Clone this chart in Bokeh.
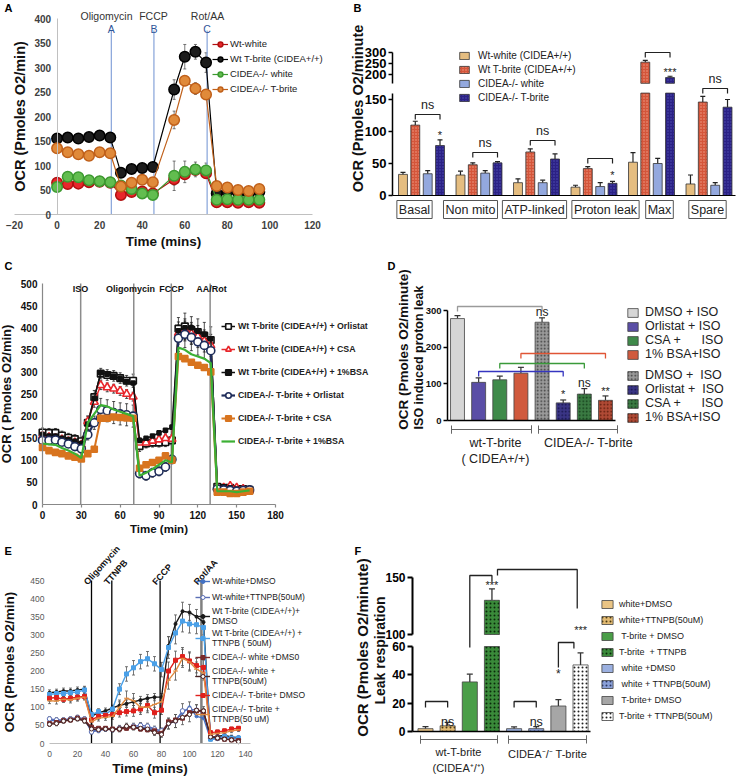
import math
from bokeh.plotting import figure
from bokeh.models import (Range1d, LinearAxis, FixedTicker, Whisker, TeeHead,
                          ColumnDataSource, Legend, LegendItem, Label)
from bokeh.layouts import row, column
from bokeh.embed import file_html
from bokeh.resources import INLINE

FONT = "Liberation Sans"

# ======================= DATA =======================
# ---- Panel A ----
a_time = [0, 5, 10, 15, 20, 25, 30, 35, 40, 45, 55, 60, 65, 70, 75, 80, 85, 90, 95]
a_wt_white = [65, 62, 63, 66, 67, 65, 40, 46, 47, 43, 72, 82, 91, 84, 25, 25, 24, 25, 24]
a_wt_white_err = [8, 5, 4, 4, 4, 4, 4, 4, 4, 4, 12, 10, 8, 8, 3, 3, 3, 3, 3]
a_wt_tbrite = [155, 157, 155, 158, 161, 157, 85, 93, 95, 97, 255, 322, 332, 310, 43, 46, 45, 43, 46]
a_wt_tbrite_err = [5, 5, 5, 5, 5, 5, 5, 6, 6, 6, 20, 25, 15, 20, 4, 4, 4, 4, 4]
a_ko_white = [56, 77, 76, 70, 68, 66, 59, 52, 43, 40, 79, 87, 92, 90, 30, 31, 30, 30, 30]
a_ko_white_err = [5, 5, 5, 5, 5, 5, 4, 4, 4, 4, 30, 22, 15, 15, 3, 3, 3, 3, 3]
a_ko_tbrite = [135, 127, 123, 120, 127, 125, 57, 65, 71, 66, 193, 273, 257, 245, 58, 55, 50, 48, 52]
a_ko_tbrite_err = [5, 5, 5, 5, 5, 5, 5, 5, 5, 5, 18, 10, 12, 10, 4, 4, 4, 4, 4]
a_injections = [25.5, 45.5, 70.5]
a_inj_letters = ["A", "B", "C"]
a_drugs = ["Oligomycin", "FCCP", "Rot/AA"]
a_xticks = [-20, 0, 20, 40, 60, 80, 100, 120]
a_yticks = [0, 50, 100, 150, 200, 250, 300, 350, 400]

# ---- Panel B ----
b_categories = ["Basal", "Non mito", "ATP-linked", "Proton leak", "Max", "Spare"]
b_groups = ["Wt-white (CIDEA+/+)", "Wt T-brite (CIDEA+/+)", "CIDEA-/- white", "CIDEA-/- T-brite"]
b_values = [[33, 32, 20, 13, 52, 18],
            [110, 48, 68, 42, 256, 146],
            [34, 35, 20, 14, 50, 16],
            [78, 51, 57, 19, 186, 138]]
b_errors = [[3, 6, 6, 3, 15, 14],
            [6, 3, 5, 3, 8, 9],
            [5, 4, 4, 6, 8, 4],
            [9, 2, 8, 3, 6, 12]]
b_break = 160
b_lower_ticks = [0, 50, 100, 150]
b_upper_ticks = [200, 250, 300]

# ---- Panel C ----
c_time = [0, 5, 10, 15, 20, 25, 30, 35, 40, 45, 50, 55, 60, 65, 70, 75, 80, 85, 90, 95, 100,
          105, 110, 115, 120, 125, 130, 135, 140, 145, 150, 155, 160]
c_wt_orl = [163, 162, 162, 156, 151, 148, 143, 185, 243, 296, 293, 291, 286, 280, 280,
            132, 138, 140, 140, 141, 145, 398, 403, 395, 390, 382, 372, 40, 38, 38, 35, 35, 33]
c_wt_orl_err = [10, 10, 10, 10, 10, 10, 10, 15, 15, 12, 12, 12, 12, 12, 15,
                12, 10, 10, 10, 10, 10, 25, 30, 30, 30, 30, 30, 5, 5, 5, 5, 5, 5]
c_wt_csa = [155, 152, 150, 147, 143, 140, 135, 188, 232, 270, 265, 262, 257, 250, 244,
            140, 140, 144, 147, 150, 148, 388, 395, 387, 380, 370, 360, 38, 38, 42, 38, 35, 33]
c_wt_csa_err = [8, 8, 8, 8, 8, 8, 8, 12, 12, 10, 10, 10, 10, 10, 10,
                10, 10, 10, 10, 10, 10, 25, 25, 25, 25, 25, 25, 5, 5, 5, 5, 5, 5]
c_wt_bsa = [158, 155, 155, 150, 147, 143, 138, 182, 240, 298, 295, 290, 285, 278, 275,
            145, 150, 155, 162, 168, 175, 393, 400, 400, 392, 385, 375, 38, 40, 38, 35, 33, 32]
c_ko_orl = [145, 145, 146, 141, 137, 131, 126, 158, 185, 215, 212, 208, 205, 203, 200,
            70, 65, 72, 75, 85, 102, 376, 385, 378, 368, 360, 348, 35, 33, 32, 30, 32, 33]
c_ko_orl_err = [8, 8, 8, 8, 8, 8, 8, 12, 15, 25, 25, 25, 25, 25, 25,
                10, 10, 10, 10, 10, 10, 30, 30, 30, 30, 30, 30, 5, 5, 5, 5, 5, 5]
c_ko_csa = [129, 122, 118, 115, 110, 107, 103, 115, 125, 195, 195, 198, 197, 196, 195,
            82, 90, 95, 100, 110, 100, 335, 330, 322, 315, 310, 300, 28, 28, 25, 25, 28, 30]
c_ko_bsa = [138, 136, 135, 128, 122, 115, 105, 185, 205, 225, 222, 215, 210, 205, 200,
            65, 72, 80, 90, 100, 95, 355, 350, 340, 335, 330, 320, 30, 30, 30, 28, 30, 32]
c_injections = [29.5, 70.5, 99.5, 129.5]
c_drugs = ["ISO", "Oligomycin", "FCCP", "AA/Rot"]
c_xticks = [0, 30, 60, 90, 120, 150, 180]
c_yticks = [0, 50, 100, 150, 200, 250, 300, 350, 400, 450, 500]

# ---- Panel D ----
d_labels = ["DMSO + ISO", "Orlistat + ISO", "CSA +      ISO", "1% BSA+ISO",
            "DMSO +  ISO", "Orlistat +  ISO", "CSA +      ISO", "1% BSA+ISO"]
d_values = [278, 104, 111, 129, 268, 48, 72, 55]
d_errors = [8, 12, 10, 16, 12, 8, 15, 12]
d_yticks = [0, 100, 200, 300]

# ---- Panel E ----
e_time = [0, 5, 10, 15, 20, 25, 30, 35, 40, 45, 50, 55, 60, 65, 70, 75, 80, 85, 90, 95,
          100, 105, 110, 115, 120, 125, 130, 135]
e_wt_white_dmso = [65, 62, 65, 68, 70, 68, 35, 38, 42, 40, 42, 42, 45, 45, 42, 38, 30,
                   55, 65, 85, 100, 75, 70, 12, 12, 15, 15, 18]
e_wt_white_ttnpb = [68, 65, 65, 68, 72, 68, 32, 36, 40, 38, 42, 45, 48, 50, 48, 40, 35,
                    55, 62, 90, 95, 92, 85, 15, 18, 20, 15, 12]
e_wt_tb_dmso = [140, 142, 145, 145, 148, 150, 75, 85, 90, 98, 105, 110, 115, 120, 125, 128, 128,
                270, 330, 365, 362, 350, 335, 15, 20, 22, 18, 15]
e_wt_tb_ttnpb = [135, 138, 138, 140, 142, 148, 80, 88, 80, 95, 150, 192, 209, 226, 234, 220, 204,
                 265, 305, 338, 330, 328, 320, 12, 15, 20, 15, 15]
e_ko_white_dmso = [55, 58, 63, 65, 70, 65, 45, 42, 42, 40, 40, 42, 45, 40, 38, 35, 28,
                   60, 65, 70, 85, 90, 88, 20, 15, 12, 10, 8]
e_ko_white_ttnpb = [53, 55, 62, 65, 68, 62, 40, 38, 40, 38, 40, 48, 45, 42, 40, 30, 25,
                    55, 62, 72, 80, 92, 90, 18, 15, 12, 10, 5]
e_ko_tb_dmso = [125, 127, 122, 125, 128, 130, 65, 75, 78, 80, 85, 88, 90, 95, 105, 85, 92,
                200, 230, 240, 228, 215, 210, 30, 32, 35, 40, 42]
e_ko_tb_ttnpb = [118, 117, 122, 120, 125, 128, 60, 70, 72, 75, 100, 125, 118, 100, 100, 108, 115,
                 175, 200, 235, 225, 205, 195, 25, 28, 30, 35, 38]
e_err_wt_tb_dmso = [8, 8, 8, 8, 8, 8, 8, 8, 8, 8, 10, 10, 10, 10, 10, 10, 10,
                    25, 25, 25, 22, 20, 15, 5, 5, 5, 5, 5]
e_err_wt_tb_ttnpb = [8, 8, 8, 8, 8, 8, 8, 8, 8, 8, 15, 20, 20, 20, 20, 20, 20,
                     30, 30, 30, 25, 25, 20, 5, 5, 5, 5, 5]
e_err_ko_tb_dmso = [8, 8, 8, 8, 8, 8, 8, 8, 8, 8, 12, 12, 15, 15, 15, 15, 12,
                    25, 25, 25, 25, 20, 20, 5, 5, 5, 5, 5]
e_err_ko_tb_ttnpb = [8, 8, 8, 8, 8, 8, 8, 8, 8, 8, 20, 20, 20, 15, 15, 15, 15,
                     25, 25, 25, 25, 20, 20, 5, 5, 5, 5, 5]
e_err_white = [6, 6, 6, 6, 6, 6, 6, 6, 6, 6, 8, 8, 8, 8, 8, 8, 8,
               15, 18, 20, 20, 15, 12, 5, 5, 5, 5, 5]
e_injections = [30, 44.5, 79, 108.5]
e_drugs = ["Oligomycin", "TTNPB", "FCCP", "Rot/AA"]
e_xticks = [0, 20, 40, 60, 80, 100, 120, 140]
e_yticks = [0, 50, 100, 150, 200, 250, 300, 350, 400, 450]

# ---- Panel F ----
f_labels = ["white+DMSO", "white+TTNPB(50uM)", " T-brite + DMSO", "T-brite  + TTNPB",
            " white +DMS0", " white + TTNPB(50uM)", " T-brite+ DMSO", "T-brite + TTNPB(50uM)"]
f_values = [2, 4, 35, 130, 2, 2, 18, 47]
f_errors = [1.5, 2.5, 5.5, 10, 1.2, 1.5, 4.5, 8.5]
f_break = 60
f_lower_ticks = [0, 20, 40, 60]
f_upper_ticks = [100, 150]


# ======================= HELPERS =======================
def fpx(v):
    return f"{v:.2f}px"


def lin(pa, va, pb, vb):
    return lambda p: va + (p - pa) * (vb - va) / (pb - pa)


class Panel:
    """Figure whose plotting frame is the whole panel box; xcal/ycal calibrate
    reference-pixel positions to data values (used for the ranges and annotations)."""

    def __init__(self, box, xcal, ycal):
        self.box = box
        x0, y0, x1, y1 = box
        self.X = lin(*xcal)
        self.Y = lin(*ycal)
        W = x1 - x0
        H = y1 - y0
        self.p = figure(width=W, height=H, min_border=0,
                        x_range=Range1d(self.X(x0), self.X(x1)),
                        y_range=Range1d(self.Y(y1), self.Y(y0)),
                        x_axis_location=None, y_axis_location=None,
                        output_backend="svg", toolbar_location=None, tools="")
        self.p.outline_line_color = None
        self.p.grid.visible = False
        self.p.background_fill_color = "white"
        self.p.border_fill_color = "white"

    def extra(self, name, ycal):
        x0, y0, x1, y1 = self.box
        f = lin(*ycal)
        self.p.extra_y_ranges = {name: Range1d(f(y1), f(y0))}


def axis(pan, side, ticks, loc, bounds, label=None, lsize=10, lbold=True, lcolor="#222",
         line="#000", lw=1.0, tick_out=0, standoff=4, title_size=13, title_standoff=4,
         rng=None, title_bold=True):
    kw = {}
    if rng:
        kw["y_range_name"] = rng
    ax = LinearAxis(fixed_location=loc, bounds=bounds, ticker=FixedTicker(ticks=ticks),
                    axis_label=label, **kw)
    ax.axis_line_color = line
    ax.axis_line_width = lw
    ax.major_tick_line_color = line if tick_out else None
    ax.major_tick_out = int(tick_out)
    ax.major_tick_in = 0
    ax.major_tick_line_width = lw
    ax.minor_tick_line_color = None
    ax.major_label_text_font = FONT
    ax.major_label_text_font_size = fpx(lsize)
    ax.major_label_text_font_style = "bold" if lbold else "normal"
    ax.major_label_text_color = lcolor
    ax.major_label_standoff = int(standoff)
    ax.axis_label_text_font = FONT
    ax.axis_label_text_font_size = fpx(title_size)
    ax.axis_label_text_font_style = "bold" if title_bold else "normal"
    ax.axis_label_text_color = "#111"
    ax.axis_label_standoff = int(title_standoff)
    pan.p.add_layout(ax, side)
    return ax


def txt(pan, x, y_px, text, size, bold=False, color="#222", align="center",
        baseline="middle", angle=0.0, **kw):
    pan.p.add_layout(Label(x=x, y=pan.Y(y_px), text=text, text_font=FONT,
                           text_font_size=fpx(size),
                           text_font_style="bold" if bold else "normal",
                           text_color=color, text_align=align, text_baseline=baseline,
                           angle=angle, **kw))


def poly(pan, xs, ys_px, color="#222", width=1.0):
    pan.p.line(xs, [pan.Y(v) for v in ys_px], line_color=color, line_width=width)


def whisk(pan, xs, vals, errs, color, width=1.0, head=4, both=True, rng=None):
    lo = [v - e for v, e in zip(vals, errs)] if both else list(vals)
    hi = [v + e for v, e in zip(vals, errs)]
    src = ColumnDataSource(dict(x=list(xs), lo=lo, hi=hi))
    kw = {}
    if rng:
        kw["y_range_name"] = rng
    w = Whisker(source=src, base="x", lower="lo", upper="hi", line_color=color,
                line_width=width,
                upper_head=TeeHead(size=head, line_color=color, line_width=width),
                lower_head=TeeHead(size=head, line_color=color, line_width=width) if both else None,
                **kw)
    pan.p.add_layout(w)


def legend(pan, items, left_px, top_px, row_px, size, bold=False, glyph_w=14, glyph_h=10,
           standoff=5, spacing_px=0, color="#222", total_h=None):
    n = len(items)
    h = total_h if total_h is not None else n * row_px + (n - 1) * spacing_px
    x0, y0, x1, y1 = pan.box
    lg = Legend(items=items, location=(left_px - x0, y1 - top_px - h),
                label_text_font=FONT, label_text_font_size=fpx(size),
                label_text_font_style="bold" if bold else "normal",
                label_text_color=color, glyph_width=int(glyph_w),
                glyph_height=int(glyph_h), label_height=int(round(row_px)),
                label_standoff=int(standoff), spacing=int(spacing_px),
                padding=0, margin=0, border_line_color=None, background_fill_alpha=0)
    pan.p.add_layout(lg)


def letter(pan, px, py, t):
    txt(pan, pan.X(px), py, t, 11, bold=True, color="#000", align="left")


# ======================= PANEL A =======================
A = Panel((0, 0, 345, 252), (14, -20, 312, 120), (214, 0, 18, 400))
pa = A.p
axis(A, "left", a_yticks, 0, (0, 400), label="OCR (Pmoles O2/min)", lsize=10, lcolor="#404040",
     line="#c0c0c0", standoff=6, title_size=14.5, title_standoff=4)
axis(A, "below", a_xticks, 0, (-20, 120), label="Time (mins)", lsize=10, lcolor="#404040",
     line="#c0c0c0", standoff=6, title_size=13.5, title_standoff=2)
pa.segment(x0=a_injections, y0=[0] * 3, x1=a_injections, y1=[A.Y(30)] * 3,
           line_color="#8faadc", line_width=1.3)
for t, l in zip(a_injections, a_inj_letters):
    txt(A, t, 28, l, 10.5, color="#2f5597")
for px_, d in zip([106, 153, 207], a_drugs):
    txt(A, A.X(px_), 15, d, 10.5, color="#333")

a_series = [
    ("Wt-white", a_wt_white, a_wt_white_err, "#e8262b", "#b01010"),
    ("Wt T-brite (CIDEA+/+)", a_wt_tbrite, a_wt_tbrite_err, "#1c1c1c", "#000000"),
    ("CIDEA-/- white", a_ko_white, a_ko_white_err, "#62bd4f", "#3c9a30"),
    ("CIDEA-/- T-brite", a_ko_tbrite, a_ko_tbrite_err, "#e08a3a", "#c0601a"),
]
a_items = []
for name, vals, errs, fill, line in a_series:
    whisk(A, a_time, vals, errs, "#555", width=0.8, head=3)
    r1 = pa.line(a_time, vals, line_color=line, line_width=1.2)
    r2 = pa.scatter(a_time, vals, size=10.5, marker="circle", fill_color=fill,
                    line_color=line, line_width=1.5)
    a_items.append(LegendItem(label=name, renderers=[r1, r2]))
legend(A, a_items, 212, 36, 15, 9.5, glyph_w=16, glyph_h=12, standoff=2)
letter(A, 4, 7, "A")

# ======================= PANEL B =======================
B = Panel((345, 0, 738, 252), (421, 0, 478.5, 1), (195, 0, 99, 150))
pb = B.p
B.extra("hi", (52, 300, 74, 200))
b_left = B.X(392)
axis(B, "left", b_lower_ticks, b_left, (0, b_break), lsize=13, lcolor="#000", lw=1.5,
     tick_out=4, standoff=2)
axis(B, "left", b_upper_ticks, b_left, (b_break, 300), lsize=13, lcolor="#000", lw=1.5,
     tick_out=4, standoff=2, rng="hi")
axis(B, "below", [], 0, (b_left, B.X(735)), lsize=0, lw=1.2)
txt(B, B.X(357), 108, "OCR (Pmoles O2/minute", 14.5, bold=True, color="#111", angle=math.pi / 2)

b_offsets = [-0.322, -0.108, 0.108, 0.322]
b_style = [
    dict(fill_color="#e5bd80", hatch_pattern="blank"),
    dict(fill_color="#d4553a", hatch_pattern="dot", hatch_color="#f0a088", hatch_scale=3,
         hatch_weight=1),
    dict(fill_color="#93a8de", hatch_pattern="blank"),
    dict(fill_color="#2b2185", hatch_pattern="dot", hatch_color="#5050b0", hatch_scale=3,
         hatch_weight=1),
]
b_items = []
for j, (name, vals, errs) in enumerate(zip(b_groups, b_values, b_errors)):
    xs = [i + b_offsets[j] for i in range(len(b_categories))]
    lo_top = [min(v, b_break) for v in vals]
    r = pb.vbar(x=xs, top=lo_top, bottom=0, width=0.155, line_color="#333", line_width=0.8,
                **b_style[j])
    b_items.append(LegendItem(label=name, renderers=[r]))
    hx = [x for x, v in zip(xs, vals) if v > b_break]
    hv = [v for v in vals if v > b_break]
    he = [e for v, e in zip(vals, errs) if v > b_break]
    lx = [x for x, v in zip(xs, vals) if v <= b_break]
    lv = [v for v in vals if v <= b_break]
    le = [e for v, e in zip(vals, errs) if v <= b_break]
    if hv:
        pb.vbar(x=hx, top=hv, bottom=b_break, width=0.155, line_color="#333", line_width=0.8,
                y_range_name="hi", **b_style[j])
        whisk(B, hx, hv, he, "#222", width=1.2, head=5, both=False, rng="hi")
    whisk(B, lx, lv, le, "#222", width=1.2, head=5, both=False)

# category label boxes (placed like the reference's boxed axis labels)
b_label_px = [414, 470, 534, 605, 659, 707]
for lx_, cat in zip(b_label_px, b_categories):
    txt(B, B.X(lx_), 209, cat, 12.5, color="#222", border_line_color="#555", border_line_width=1,
        background_fill_color="white", padding=2)

b_brackets = [(0, 114, "ns"), (1, 152, "ns"), (2, 140, "ns"), (3, 158, ""), (4, 52, ""), (5, 88, "ns")]
for cat, ypx, lab in b_brackets:
    x1, x2 = cat + b_offsets[1], cat + b_offsets[3]
    poly(B, [x1, x1, x2, x2], [ypx + 5, ypx, ypx, ypx + 5], color="#222", width=1.2)
    if lab:
        txt(B, (x1 + x2) / 2, ypx - 10, lab, 12.5, color="#222")
txt(B, 0 + b_offsets[3], 134, "*", 11, color="#222")
txt(B, 3 + b_offsets[3], 174, "*", 11, color="#222")
txt(B, 4 + b_offsets[3], 71, "***", 11, color="#222")
legend(B, b_items, 458, 48, 14, 10, glyph_w=12, glyph_h=9, standoff=8)
letter(B, 353, 7, "B")

# ======================= PANEL C =======================
C = Panel((0, 252, 378, 537), (42, 0, 275, 180), (504, 0, 283, 500))
pc = C.p
axis(C, "left", c_yticks, 0, (0, 500), label="OCR ( Pmoles O2/min)", lsize=10, lcolor="#111",
     line="#888", lw=1.2, standoff=5, title_size=13, title_standoff=4)
axis(C, "below", c_xticks, 0, (0, 180), label="Time (min)", lsize=10, lcolor="#111",
     line="#888", lw=1.2, tick_out=3, standoff=3, title_size=11.5, title_standoff=1)
pc.segment(x0=c_injections, y0=[0] * 4, x1=c_injections, y1=[500] * 4,
           line_color="#8c8c8c", line_width=1.5)
for px_, d in zip([80, 130, 171, 211], c_drugs):
    txt(C, C.X(px_), 288, d, 9, bold=True, color="#111")

c_series = [
    ("Wt T-brite (CIDEA+/+) + Orlistat", c_wt_orl, c_wt_orl_err, "#111111", "square", "white", 6.5, 1.5),
    ("Wt T-brite (CIDEA+/+) + CSA", c_wt_csa, c_wt_csa_err, "#e8262b", "triangle", "white", 8, 1.5),
    ("Wt T-brite (CIDEA+/+) + 1%BSA", c_wt_bsa, None, "#111111", "square", "#111111", 4, 1.5),
    ("CIDEA-/- T-brite + Orlistat", c_ko_orl, c_ko_orl_err, "#1f2d5a", "circle", "white", 8, 2.2),
    ("CIDEA-/- T-brite + CSA", c_ko_csa, None, "#d8741f", "square", "#d8741f", 6, 2.0),
    ("CIDEA-/- T-brite + 1%BSA", c_ko_bsa, None, "#3cb034", None, None, 0, 2.2),
]
c_items = []
for name, vals, errs, col, mk, fill, sz, lw in c_series:
    if errs:
        whisk(C, c_time, vals, errs, "#222", width=0.8, head=3)
    rs = [pc.line(c_time, vals, line_color=col, line_width=lw)]
    if mk:
        rs.append(pc.scatter(c_time, vals, marker=mk, size=sz, fill_color=fill,
                             line_color=col, line_width=1.6))
    c_items.append(LegendItem(label=name, renderers=rs))
legend(C, c_items, 221, 314, 23, 8.8, bold=True, glyph_w=14, glyph_h=14, standoff=3)
letter(C, 4, 265, "C")

# ======================= PANEL D =======================
D = Panel((378, 252, 738, 537), (457, 0, 478.14, 1), (420, 0, 310, 300))
pd_ = D.p
d_left = D.X(447)
axis(D, "left", d_yticks, d_left, (0, 300), lsize=9.5, lcolor="#111", lw=1.5, tick_out=4,
     standoff=2)
axis(D, "below", [], 0, (d_left, D.X(615)), lsize=0, lw=1.5)
d_fill = ["#d6d6d6", "#5a4ea6", "#3f8a4a", "#d05a3e", "#9a9a9a", "#3a3585", "#3a7a42", "#b04a35"]
d_hatch = ["blank", "blank", "blank", "blank", "dot", "dot", "dot", "dot"]
d_hcol = ["#000", "#000", "#000", "#000", "#3a3a3a", "#15134a", "#123a18", "#5a1a0a"]
d_src = ColumnDataSource(dict(x=list(range(len(d_values))), top=d_values, fill=d_fill,
                              hatch=d_hatch, hcol=d_hcol))
rd = pd_.vbar(x="x", top="top", bottom=0, width=0.66, source=d_src, fill_color="fill",
              hatch_pattern="hatch", hatch_color="hcol", hatch_scale=3.5, hatch_weight=1.6,
              line_color="#444", line_width=0.8)
whisk(D, range(len(d_values)), d_values, d_errors, "#333", width=1.2, head=6, both=False)
d_brackets = [(0, 4, 306, "#9a9a9a"), (3, 7, 353, "#e05535"), (2, 6, 363, "#3a9a3a"), (1, 5, 371, "#3535c0")]
for i1, i2, ypx, col in d_brackets:
    poly(D, [i1, i1, i2, i2], [ypx + 5, ypx, ypx, ypx + 5], color=col, width=1.3)
txt(D, 4, 311, "ns", 12, color="#222")
txt(D, 5, 393, "*", 11, color="#222")
txt(D, 6, 382, "ns", 12, color="#222")
txt(D, 7, 390, "**", 11, color="#222")
for a_, b_ in [(451, 531), (538, 617)]:
    poly(D, [D.X(a_), D.X(a_), D.X(a_), D.X(b_), D.X(b_), D.X(b_)],
         [425, 433, 429, 429, 425, 433], color="#666", width=1.0)
txt(D, D.X(495), 442, "wt-T-brite", 12.5, color="#222")
txt(D, D.X(495), 458, "( CIDEA+/+)", 12.5, color="#222")
txt(D, D.X(588), 442, "CIDEA-/- T-brite", 12.5, color="#222")
txt(D, D.X(403), 349, "OCR (Pmoles O2/minute)", 13.5, bold=True, color="#111", angle=math.pi / 2)
txt(D, D.X(418), 357, "ISO induced proton leak", 12.5, bold=True, color="#111", angle=math.pi / 2)
d_items1 = [LegendItem(label=d_labels[i], renderers=[rd], index=i) for i in range(4)]
d_items2 = [LegendItem(label=d_labels[i], renderers=[rd], index=i) for i in range(4, 8)]
legend(D, d_items1, 626, 309, 13, 12.5, glyph_w=13, glyph_h=11, standoff=6)
legend(D, d_items2, 626, 372, 13, 12.5, glyph_w=13, glyph_h=11, standoff=6)
letter(D, 387, 265, "D")

# ======================= PANEL E =======================
E = Panel((0, 537, 352, 777), (49, 0, 245, 140), (743, 0, 580, 450))
pe = E.p
e_right = E.X(250)
axis(E, "left", e_yticks, 0, (0, 450), label="OCR (Pmoles O2/min)", lsize=8.5, lbold=False,
     lcolor="#595959", line=None, standoff=5, title_size=13.5, title_standoff=10)
axis(E, "below", e_xticks, 0, (0, e_right), label="Time (mins)", lsize=8.5, lbold=False,
     lcolor="#595959", line="#bfbfbf", standoff=7, title_size=13.5, title_standoff=1)
pe.segment(x0=e_injections, y0=[0] * 4, x1=e_injections, y1=[450] * 4,
           line_color=["#000", "#000", "#000", "#808080"], line_width=[1.3, 1.3, 1.3, 2.5])
for t, d in zip(e_injections, e_drugs):
    txt(E, t, 583, d, 9, bold=True, color="#111", align="left", angle=math.radians(48),
        x_offset=-6)

e_series = [
    ("Wt-white+DMSO", e_wt_white_dmso, None, "#4472c4", "circle", "#4472c4", 3),
    ("Wt-white+TTNPB(50uM)", e_wt_white_ttnpb, e_err_white, "#5b6fb5", "circle", "white", 4.5),
    ("Wt T-brite (CIDEA+/+)+\nDMSO", e_wt_tb_dmso, e_err_wt_tb_dmso, "#1a1a1a", "circle", "#1a1a1a", 3),
    ("Wt T-brite (CIDEA+/+) +\nTTNPB ( 50uM)", e_wt_tb_ttnpb, e_err_wt_tb_ttnpb, "#4aa0e8", "square", "#4aa0e8", 4),
    ("CIDEA-/- white +DMS0", e_ko_white_dmso, None, "#7a2a2a", "square", "#7a2a2a", 4),
    ("CIDEA-/- white +\nTTNPB(50uM)", e_ko_white_ttnpb, e_err_white, "#4a2525", "circle", "white", 4),
    ("CIDEA-/- T-brite+ DMSO", e_ko_tb_dmso, e_err_ko_tb_dmso, "#e0201c", "square", "#e0201c", 4),
    ("CIDEA-/- T-brite +\nTTNPB(50 uM)", e_ko_tb_ttnpb, e_err_ko_tb_ttnpb, "#e08a40", "dash", "#e08a40", 5),
]
e_items = []
for name, vals, errs, col, mk, fill, sz in e_series:
    if errs:
        whisk(E, e_time, vals, errs, "#555", width=0.8, head=3)
for name, vals, errs, col, mk, fill, sz in e_series:
    r1 = pe.line(e_time, vals, line_color=col, line_width=1.4)
    r2 = pe.scatter(e_time, vals, marker=mk, size=sz, fill_color=fill, line_color=col,
                    line_width=1)
    e_items.append(LegendItem(label=name, renderers=[r1, r2]))
legend(E, e_items, 195, 572, 14, 8.5, glyph_w=15, glyph_h=10, standoff=2, spacing_px=2,
       total_h=152)
letter(E, 4, 550, "E")

# ======================= PANEL F =======================
F = Panel((352, 537, 737, 776), (425, 0, 447.15, 1), (731, 0, 646, 60))
pf = F.p
F.extra("hi", (634, 100, 577, 150))
f_left = F.X(412)
axis(F, "left", f_lower_ticks, f_left, (0, f_break), lsize=12, lcolor="#000", lw=2,
     tick_out=5, standoff=2)
axis(F, "left", f_upper_ticks, f_left, (100, 150), lsize=12, lcolor="#000", lw=2,
     tick_out=5, standoff=2, rng="hi")
axis(F, "below", [], 0, (f_left, F.X(590)), lsize=0, lw=1.5)
f_fill = ["#eac484", "#e2ba72", "#4a9e48", "#3a8a3a", "#9bb0e0", "#8aa0d8", "#a6a6a6", "#ffffff"]
f_hatch = ["blank", "dot", "blank", "dot", "blank", "dot", "blank", "dot"]
f_hcol = ["#000", "#4a3a10", "#000", "#0a2a0a", "#000", "#2a3560", "#000", "#222222"]
f_x = list(range(len(f_values)))
f_lo_top = [min(v, f_break) for v in f_values]
f_src = ColumnDataSource(dict(x=f_x, top=f_lo_top, fill=f_fill, hatch=f_hatch, hcol=f_hcol))
rf = pf.vbar(x="x", top="top", bottom=0, width=0.68, source=f_src, fill_color="fill",
             hatch_pattern="hatch", hatch_color="hcol", hatch_scale=4, hatch_weight=2.2,
             line_color="#444", line_width=0.8)
f_hi_idx = [i for i, v in enumerate(f_values) if v > f_break]
f_hsrc = ColumnDataSource(dict(x=[f_x[i] for i in f_hi_idx], top=[f_values[i] for i in f_hi_idx],
                               fill=[f_fill[i] for i in f_hi_idx], hatch=[f_hatch[i] for i in f_hi_idx],
                               hcol=[f_hcol[i] for i in f_hi_idx]))
pf.vbar(x="x", top="top", bottom=100, width=0.68, source=f_hsrc, fill_color="fill",
        hatch_pattern="hatch", hatch_color="hcol", hatch_scale=4, hatch_weight=2.2,
        line_color="#444", line_width=0.8, y_range_name="hi")
f_lo_idx = [i for i, v in enumerate(f_values) if v <= f_break]
whisk(F, [f_x[i] for i in f_lo_idx], [f_values[i] for i in f_lo_idx],
      [f_errors[i] for i in f_lo_idx], "#333", width=1.3, head=6, both=False)
whisk(F, [f_x[i] for i in f_hi_idx], [f_values[i] for i in f_hi_idx],
      [f_errors[i] for i in f_hi_idx], "#333", width=1.3, head=6, both=False, rng="hi")
for i1, i2 in [(0, 1), (4, 5)]:
    poly(F, [i1, i1, i2, i2], [707, 701, 701, 707], color="#222", width=1.3)
    txt(F, i2, 721, "ns", 12.5, color="#222")
poly(F, [2, 2, 3, 3], [647, 575, 575, 581], color="#222", width=1.3)
poly(F, [3.25, 3.25, 6.85, 6.85], [575, 569, 569, 608], color="#222", width=1.3)
poly(F, [6, 6, 6.7, 6.7], [667, 642, 642, 648], color="#222", width=1.3)
txt(F, 3, 584, "***", 11, color="#222")
txt(F, 7, 629, "***", 11, color="#222")
txt(F, 6, 673, "*", 12, color="#222")
for a_, b_ in [(420, 497), (508, 586)]:
    poly(F, [F.X(a_), F.X(a_), F.X(a_), F.X(b_), F.X(b_), F.X(b_)],
         [735, 743, 739, 739, 735, 743], color="#666", width=1.0)
txt(F, F.X(458), 751, "wt-T-brite", 11, color="#222")
txt(F, F.X(458), 767, "(CIDEA\u207a/\u207a)", 11, color="#222")
txt(F, F.X(547), 753, "CIDEA\u207b/\u207b T-brite", 11, color="#222")
txt(F, F.X(362), 647, "OCR (Pmoles O2/minute)", 15, bold=True, color="#111", angle=math.pi / 2)
txt(F, F.X(379), 650, "Leak respiration", 14, bold=True, color="#111", angle=math.pi / 2)
f_items = [LegendItem(label=f_labels[i], renderers=[rf], index=i) for i in range(8)]
legend(F, f_items, 600, 600, 15.5, 9, glyph_w=14, glyph_h=10, standoff=5)
letter(F, 354, 550, "F")

layout = column(row(A.p, B.p), row(C.p, D.p), row(E.p, F.p))
open("out.html", "w").write(file_html(layout, INLINE))
